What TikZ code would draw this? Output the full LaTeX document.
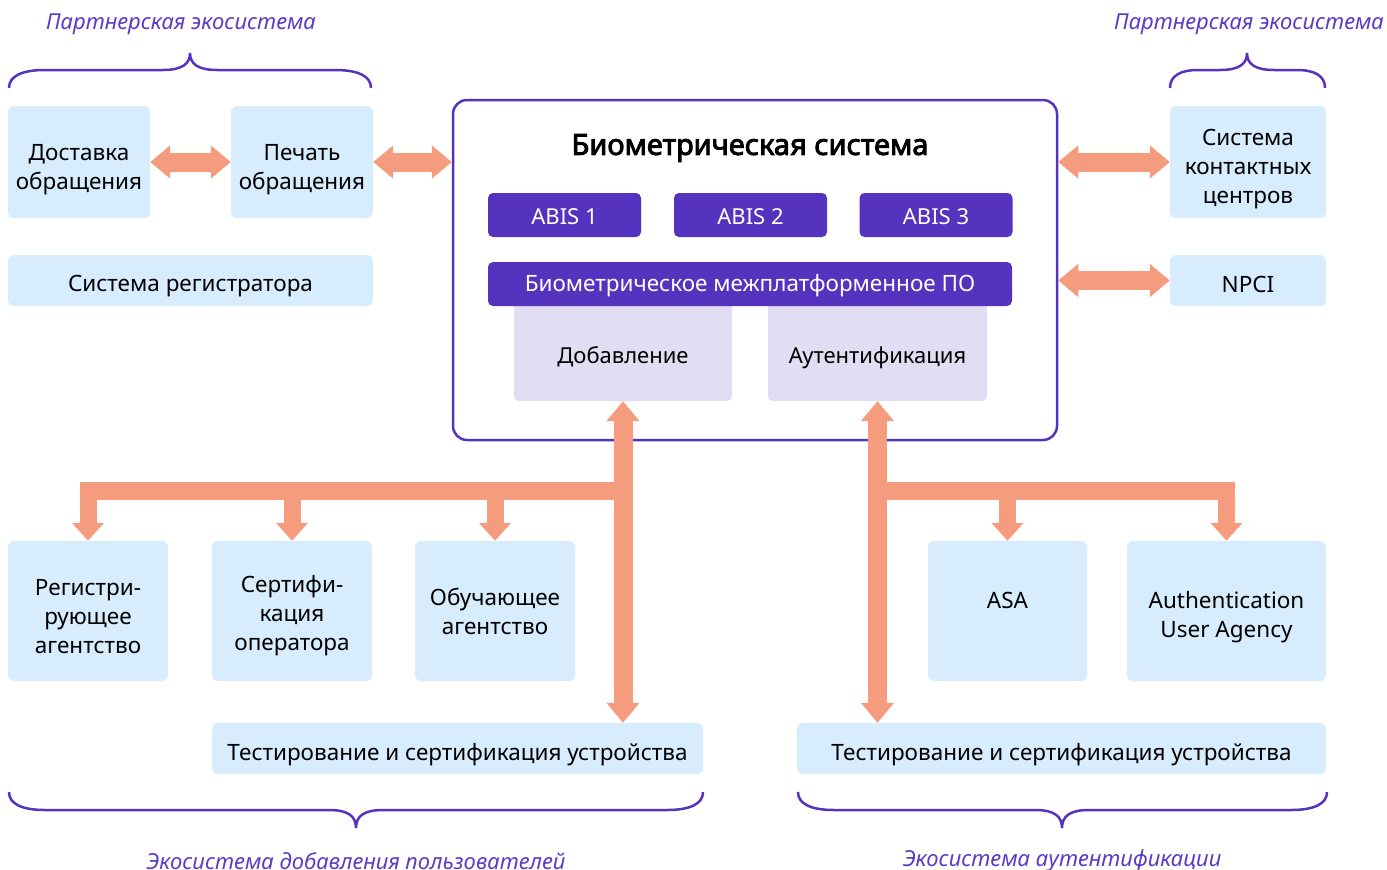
\documentclass[tikz,border=0pt]{standalone}
\usepackage{fontspec}
\setmainfont{Noto Sans}
\newfontfamily\titlefont{Noto Sans}[FakeBold=3]
\usetikzlibrary{arrows.meta,positioning}

\definecolor{boxblue}{HTML}{D7ECFC}
\definecolor{lavbox}{HTML}{E3DDF3}
\definecolor{bioviolet}{HTML}{5633BE}
\definecolor{ecotext}{HTML}{5A3CC6}
\definecolor{salmon}{HTML}{F59C7E}

% taller first line pushes the text down in its box
\newcommand{\dropby}[1]{\rule{0pt}{#1}}

\tikzset{
  box/.style={fill=boxblue, rounded corners=6pt, align=center, inner sep=0pt,
              font=\fontsize{22.5}{29}\selectfont},
  abis/.style={fill=bioviolet, text=white, rounded corners=5pt, align=center,
               inner sep=0pt, minimum height=44pt, font=\fontsize{22}{25}\selectfont,
               execute at begin node={\rule{0pt}{20pt}}},
  mode/.style={fill=lavbox, rounded corners=5pt, inner sep=0pt,
               minimum width=218pt, minimum height=101pt, font=\fontsize{22}{25}\selectfont},
  eco/.style={text=ecotext, font=\fontsize{22}{26}\selectfont\itshape},
  brace/.style={draw=bioviolet, line width=2.5pt},
  fat/.style={draw=salmon, line width=19pt,
              {Triangle[width=32pt,length=20pt]}-{Triangle[width=32pt,length=20pt]}},
  bar/.style={draw=salmon, line width=18pt},
  down/.style={draw=salmon, line width=17pt, -{Triangle[width=31pt,length=18pt]}}
}

\begin{document}
\begin{tikzpicture}[x=1pt, y=-1pt]
\useasboundingbox (0,0) rectangle (1387,870);

% biometric system
\node[draw=bioviolet, fill=white, line width=2.5pt, rounded corners=14pt,
      minimum width=604pt, minimum height=340pt] (bio) at (755,270) {};
\node[font=\fontsize{29}{33}\selectfont\titlefont] (biotitle) at (750,148) {Биометрическая система};
\node[abis, minimum width=153pt] (abis1) at (564.5,215) {ABIS 1};
\node[abis, minimum width=153pt] (abis2) at (750.5,215) {ABIS 2};
\node[abis, minimum width=153pt] (abis3) at (936,215) {ABIS 3};
\node[mode] (dob) at (623,350.5) {\dropby{29pt}Добавление};
\node[mode, minimum width=219pt] (aut) at (877.5,350.5) {\dropby{31pt}Аутентификация};
\node[abis, minimum width=524pt, font=\fontsize{22.5}{25}\selectfont] (mw) at (750,284) {Биометрическое межплатформенное ПО};

% partner ecosystems
\node[box, minimum width=142pt, minimum height=112pt] (dost) at (79,162) {\dropby{31pt}Доставка\\обращения};
\node[box, minimum width=142pt, minimum height=112pt] (pech) at (302,162) {\dropby{31pt}Печать\\обращения};
\node[box, minimum width=365pt, minimum height=51pt] (registr) at (190.5,280.5) {\dropby{28pt}Система регистратора};
\node[box, minimum width=156pt, minimum height=112pt] (kc) at (1248,162) {\dropby{31pt}Система\\контактных\\центров};
\node[box, minimum width=156pt, minimum height=51pt] (npci) at (1248,280.5) {\dropby{24pt}NPCI};

% enrolment ecosystem
\node[box, minimum width=160pt, minimum height=140pt] (regag) at (88,611) {\dropby{27pt}Регистри-\\рующее\\агентство};
\node[box, minimum width=160pt, minimum height=140pt] (certop) at (292,611) {\dropby{27pt}Сертифи-\\кация\\оператора};
\node[box, minimum width=160pt, minimum height=140pt] (train) at (495,611) {Обучающее\\агентство};
\node[box, minimum width=491pt, minimum height=51pt] (testL) at (457.5,748.5) {\dropby{30pt}Тестирование и сертификация устройства};

% authentication ecosystem
\node[box, minimum width=159pt, minimum height=140pt] (asa) at (1007.5,611) {\raisebox{21pt}{ASA}};
\node[box, minimum width=199pt, minimum height=140pt] (aua) at (1226.5,611) {\dropby{29pt}Authentication\\User Agency};
\node[box, minimum width=529pt, minimum height=51pt] (testR) at (1061.5,748.5) {\dropby{30pt}Тестирование и сертификация устройства};

% arrows
\draw[fat] (dost) -- (pech);
\draw[fat] (pech.east) -- (bio.west |- pech.east);
\draw[fat] (bio.east |- kc.west) -- (kc.west);
\draw[fat] (bio.east |- npci.west) -- (npci.west);
\draw[fat] (dob.south) -- (dob.south |- testL.north);
\draw[fat] (aut.south) -- (aut.south |- testR.north);

\coordinate (barL) at (88,491);
\coordinate (barR) at (1226,491);
\draw[bar] ([xshift=-8.5pt]barL) -- (dob.south |- barL);
\draw[bar] (aut.south |- barR) -- ([xshift=8.5pt]barR);
\draw[down] (regag.north |- barL) -- (regag.north);
\draw[down] (certop.north |- barL) -- (certop.north);
\draw[down] (train.north |- barL) -- (train.north);
\draw[down] (asa.north |- barR) -- (asa.north);
\draw[down] (aua.north |- barR) -- (aua.north);

% braces
\draw[brace] (9,88) .. controls (9,76) and (22,70) .. (45,70) -- (163,70)
  .. controls (182,70) and (190,64) .. (190,53) .. controls (190,64) and (198,70) .. (217,70)
  -- (335,70) .. controls (358,70) and (371,76) .. (371,88);
\draw[brace] (1170,88) .. controls (1170,76) and (1180,70) .. (1198,70) -- (1220,70)
  .. controls (1239,70) and (1247,64) .. (1247,53) .. controls (1247,64) and (1255,70) .. (1274,70)
  -- (1297,70) .. controls (1315,70) and (1325,76) .. (1325,88);
\draw[brace] (9,792) .. controls (9,804) and (22,810) .. (45,810) -- (329,810)
  .. controls (348,810) and (356,816) .. (356,828) .. controls (356,816) and (364,810) .. (383,810)
  -- (667,810) .. controls (690,810) and (703,804) .. (703,792);
\draw[brace] (798,792) .. controls (798,804) and (811,810) .. (834,810) -- (1035,810)
  .. controls (1054,810) and (1062,816) .. (1062,828) .. controls (1062,816) and (1070,810) .. (1089,810)
  -- (1291,810) .. controls (1314,810) and (1327,804) .. (1327,792);

% ecosystem labels
\node[eco] (ecoTL) at (181,24) {Партнерская экосистема};
\node[eco] (ecoTR) at (1249,24) {Партнерская экосистема};
\node[eco] (ecoBL) at (356,861) {Экосистема добавления пользователей};
\node[eco] (ecoBR) at (1062,861) {Экосистема аутентификации};
\end{tikzpicture}
\end{document}
